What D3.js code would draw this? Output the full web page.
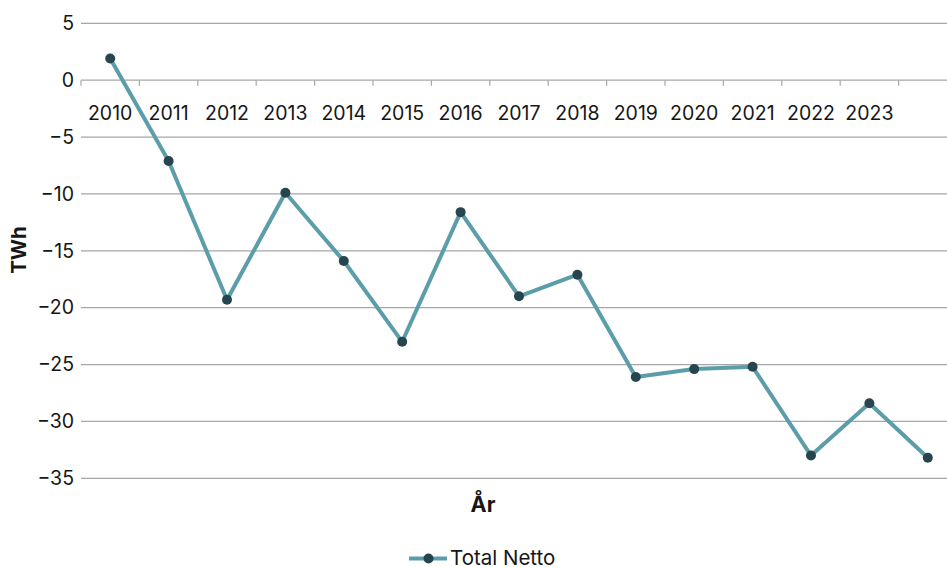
<!DOCTYPE html>
<html>
<head>
<meta charset="utf-8">
<script src="https://cdn.jsdelivr.net/npm/d3@7/dist/d3.min.js"></script>
<style>
  html, body { margin: 0; padding: 0; background: #fff; }
  svg { display: block; font-family: Inter, "Noto Sans", sans-serif; }
</style>
</head>
<body>
<svg id="chart" width="947" height="567"></svg>
<script>
// Yearly net exchange, TWh
const years = ["2010","2011","2012","2013","2014","2015","2016","2017","2018","2019","2020","2021","2022","2023","2024"];
const totalNetto = [1.9, -7.1, -19.3, -9.9, -15.9, -23.0, -11.6, -19.0, -17.1, -26.1, -25.4, -25.2, -33.0, -28.4, -33.2];
// Year labels printed under the zero line (the last one does not fit the frame)
const yearLabels = ["2010","2011","2012","2013","2014","2015","2016","2017","2018","2019","2020","2021","2022","2023"];
const yTicks = [5, 0, -5, -10, -15, -20, -25, -30, -35];
const seriesName = "Total Netto";
const xTitle = "År";
const yTitle = "TWh";

const svg = d3.select("#chart");
const W = 947, H = 567;

const x = d3.scaleBand().domain(years).range([81, 957]).padding(0);
const y = d3.scaleLinear().domain([-35, 5]).range([478.3, 23.3]);

const gridColor = "#a6a6a6";
const lineColor = "#5b9ea9";
const dotColor = "#27454f";
const textColor = "#161616";
const font = "Inter, 'Noto Sans', sans-serif";

// horizontal gridlines
svg.append("g")
  .selectAll("line")
  .data(yTicks.filter(d => d !== 0))
  .join("line")
  .attr("x1", 81).attr("x2", W)
  .attr("y1", d => y(d)).attr("y2", d => y(d))
  .attr("stroke", gridColor).attr("stroke-width", 1.2);

// y axis labels
const yAxis = d3.axisLeft(y).tickValues(yTicks).tickSize(0).tickPadding(7)
  .tickFormat(d => d < 0 ? "\u2212" + Math.abs(d) : String(d));
const gy = svg.append("g").attr("transform", "translate(81,0)").call(yAxis);
gy.select(".domain").remove();
gy.selectAll("text").attr("font-size", 19.5).attr("fill", textColor)
  .attr("font-family", font);

// category axis sitting on the zero line
const xAxis = d3.axisBottom(x)
  .tickValues(yearLabels)
  .tickSize(0).tickPadding(0);
const gx = svg.append("g").attr("transform", `translate(0,${y(0)})`).call(xAxis);
gx.select(".domain").remove();
gx.selectAll("text").attr("font-size", 19.5).attr("fill", textColor)
  .attr("y", 39.5).attr("dy", 0)
  .attr("font-family", font);

// zero line with tick marks at band boundaries
svg.append("line")
  .attr("x1", 81).attr("x2", W)
  .attr("y1", y(0)).attr("y2", y(0))
  .attr("stroke", gridColor).attr("stroke-width", 1.2);
svg.append("g")
  .selectAll("line")
  .data(years)
  .join("line")
  .attr("x1", d => x(d)).attr("x2", d => x(d))
  .attr("y1", y(0)).attr("y2", y(0) + 5.5)
  .attr("stroke", gridColor).attr("stroke-width", 1.2);

// series line
const line = d3.line()
  .x((d, i) => x(years[i]) + x.bandwidth() / 2)
  .y(d => y(d));
svg.append("path")
  .datum(totalNetto)
  .attr("d", line)
  .attr("fill", "none")
  .attr("stroke", lineColor)
  .attr("stroke-width", 4)
  .attr("stroke-linejoin", "round");

svg.append("g")
  .selectAll("circle")
  .data(totalNetto)
  .join("circle")
  .attr("cx", (d, i) => x(years[i]) + x.bandwidth() / 2)
  .attr("cy", d => y(d))
  .attr("r", 5)
  .attr("fill", dotColor);

// axis titles
svg.append("text")
  .attr("transform", "translate(26,250) rotate(-90)")
  .attr("text-anchor", "middle")
  .attr("font-size", 20.5).attr("font-weight", 700).attr("fill", textColor)
  .attr("font-family", font)
  .text(yTitle);
svg.append("text")
  .attr("x", 483).attr("y", 511.5)
  .attr("text-anchor", "middle")
  .attr("font-size", 21.5).attr("font-weight", 700).attr("fill", textColor)
  .attr("font-family", font)
  .text(xTitle);

// legend
const lg = svg.append("g").attr("transform", "translate(409,558.5)");
lg.append("line").attr("x1", 0).attr("x2", 38).attr("y1", 0).attr("y2", 0)
  .attr("stroke", lineColor).attr("stroke-width", 4);
lg.append("circle").attr("cx", 19.5).attr("cy", 0).attr("r", 5).attr("fill", dotColor);
lg.append("text").attr("x", 41).attr("y", 6.8)
  .attr("font-size", 20.5).attr("fill", textColor)
  .attr("font-family", font)
  .text(seriesName);
</script>
</body>
</html>
